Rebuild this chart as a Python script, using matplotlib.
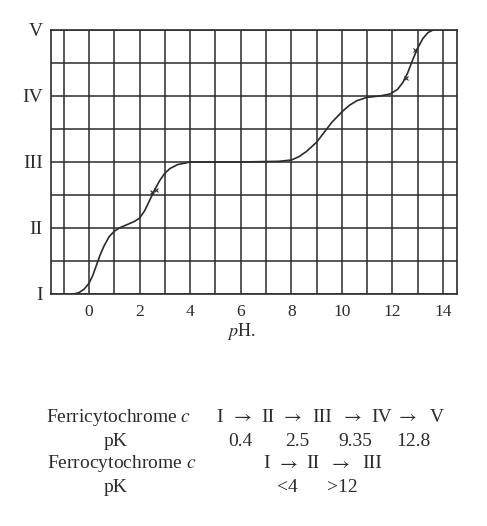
import matplotlib
matplotlib.use("Agg")
import matplotlib.pyplot as plt

# ---- data ----
ph = [-0.6, -0.4, -0.2, 0.0, 0.15, 0.3, 0.45, 0.6, 0.8, 1.0, 1.2, 1.5, 1.8, 2.0,
      2.2, 2.4, 2.6, 2.8, 3.0, 3.2, 3.5, 4.0, 6.0, 7.5, 8.0, 8.3, 8.6, 9.0, 9.3,
      9.6, 10.0, 10.3, 10.6, 11.0, 11.5, 11.9, 12.2, 12.4, 12.6, 12.8, 13.0,
      13.2, 13.4, 13.6]
level = [1.0, 1.02, 1.07, 1.16, 1.28, 1.44, 1.6, 1.73, 1.87, 1.95, 2.0, 2.05,
         2.1, 2.15, 2.26, 2.42, 2.58, 2.72, 2.83, 2.9, 2.96, 3.0, 3.0, 3.01,
         3.03, 3.08, 3.16, 3.3, 3.45, 3.6, 3.76, 3.86, 3.93, 3.98, 4.0, 4.03,
         4.1, 4.2, 4.35, 4.55, 4.73, 4.87, 4.96, 5.0]
obs_ph = [2.5, 2.65, 12.55, 12.87]
obs_level = [2.55, 2.58, 4.28, 4.7]

x_ticks = [0, 2, 4, 6, 8, 10, 12, 14]
y_ticks = [1, 2, 3, 4, 5]
y_labels = ["I", "II", "III", "IV", "V"]

ferri_states = ["I", "II", "III", "IV", "V"]
ferri_pk = ["0.4", "2.5", "9.35", "12.8"]
ferro_states = ["I", "II", "III"]
ferro_pk = ["<4", ">12"]

plt.rcParams["font.family"] = ["Liberation Serif", "DejaVu Serif"]
plt.rcParams["mathtext.fontset"] = "stix"

ink = "#2b2b2b"
W, H = 487, 526
fig = plt.figure(figsize=(W / 100, H / 100), dpi=100)
ax = fig.add_axes([51 / W, 1 - 294 / H, (457 - 51) / W, (294 - 30) / H])
ax.set_xlim(-1.5, 14.55)
ax.set_ylim(1, 5)

# grid
for gx in range(-1, 15):
    ax.axvline(gx, color=ink, lw=1.1, zorder=1)
for i in range(9):
    ax.axhline(1 + 0.5 * i, color=ink, lw=1.1, zorder=1)
for s in ax.spines.values():
    s.set_color(ink)
    s.set_linewidth(1.2)

ax.plot(ph, level, color=ink, lw=1.2, zorder=3)
ax.plot(obs_ph, obs_level, ls="none", marker="x", ms=3, mew=0.8, color=ink, zorder=4)

ax.set_xticks(x_ticks)
ax.set_xticklabels([str(t) for t in x_ticks], fontsize=12.5, color=ink)
ax.set_yticks(y_ticks)
ax.set_yticklabels(y_labels, fontsize=14, color=ink)
ax.tick_params(length=0, pad=7)
ax.tick_params(axis="y", pad=6)
ax.set_xlabel(r"$p$H.", fontsize=13, color=ink, va="center")
ax.xaxis.set_label_coords((241 - 51) / 406, (294 - 332) / 264)

# text table
fs = 14
def px(x, y, s, ha="center", **kw):
    fig.text(x / W, 1 - y / H, s, ha=ha, va="center", fontsize=fs, color=ink, **kw)

px(119, 417, r"Ferricytochrome $c$")
px(116, 441, "pK")
px(122, 464, r"Ferrocytochrome $c$")
px(116, 487, "pK")

ARROW = r"$\rightarrow$"
ferri_x = [220, 268, 322, 382, 437]
arrow_x1 = [242, 292, 352, 407]
for xx, s in zip(ferri_x, ferri_states):
    px(xx, 417, s)
for xx in arrow_x1:
    px(xx, 417, ARROW)
pk_x = [240, 297, 355, 413]
for xx, s in zip(pk_x, ferri_pk):
    px(xx, 441, s)

ferro_x = [267, 313, 372]
arrow_x2 = [288, 340]
for xx, s in zip(ferro_x, ferro_states):
    px(xx, 464, s)
for xx in arrow_x2:
    px(xx, 464, ARROW)
pk2_x = [287, 342]
for xx, s in zip(pk2_x, ferro_pk):
    px(xx, 487, s)

fig.savefig("out.png", dpi=100, facecolor="white")
